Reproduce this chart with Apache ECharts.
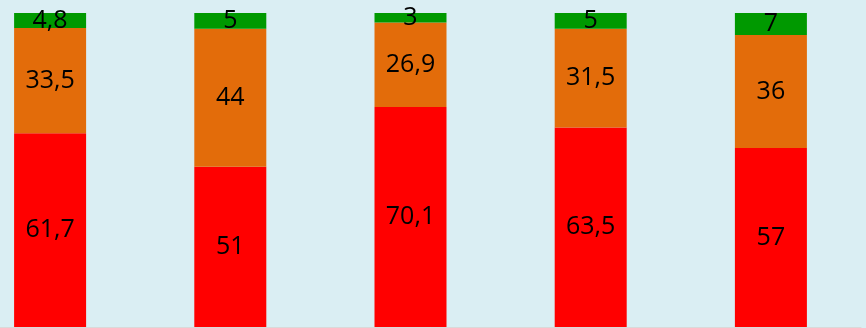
<!DOCTYPE html>
<html>
<head>
<meta charset="utf-8">
<script src="https://cdn.jsdelivr.net/npm/echarts@6/dist/echarts.min.js"></script>
<style>
  html, body { margin: 0; padding: 0; background: #daeef3; }
  #chart { width: 866px; height: 328px; }
</style>
</head>
<body>
<div id="chart"></div>
<script>
const categories = ['1', '2', '3', '4', '5'];
const redValues = [61.7, 51, 70.1, 63.5, 57];
const orangeValues = [33.5, 44, 26.9, 31.5, 36];
const greenValues = [4.8, 5, 3, 5, 7];

// comma decimals, like the original
const fmt = (p) => String(p.value).replace('.', ',');

const label = {
  show: true,
  position: 'inside',
  color: '#000',
  fontFamily: 'Open Sans',
  fontSize: 25,
  formatter: fmt
};

const chart = echarts.init(document.getElementById('chart'));

chart.setOption({
  backgroundColor: '#daeef3',
  animation: false,
  grid: { left: -40, right: 5, top: 13, bottom: 1, outerBoundsMode: 'none', containLabel: false },
  xAxis: {
    type: 'category',
    data: categories,
    axisLine: { show: true, lineStyle: { color: '#d9d9d9', width: 1 } },
    axisTick: { show: false },
    axisLabel: { show: false }
  },
  yAxis: {
    type: 'value',
    min: 0,
    max: 100,
    show: false,
    splitLine: { show: false }
  },
  series: [
    {
      name: 'red',
      type: 'bar',
      stack: 'total',
      barWidth: 72,
      data: redValues,
      itemStyle: { color: '#ff0000' },
      label
    },
    {
      name: 'orange',
      type: 'bar',
      stack: 'total',
      barWidth: 72,
      data: orangeValues,
      itemStyle: { color: '#e36c0a' },
      label
    },
    {
      name: 'green',
      type: 'bar',
      stack: 'total',
      barWidth: 72,
      data: greenValues,
      itemStyle: { color: '#009900' },
      label
    }
  ]
});
</script>
</body>
</html>
